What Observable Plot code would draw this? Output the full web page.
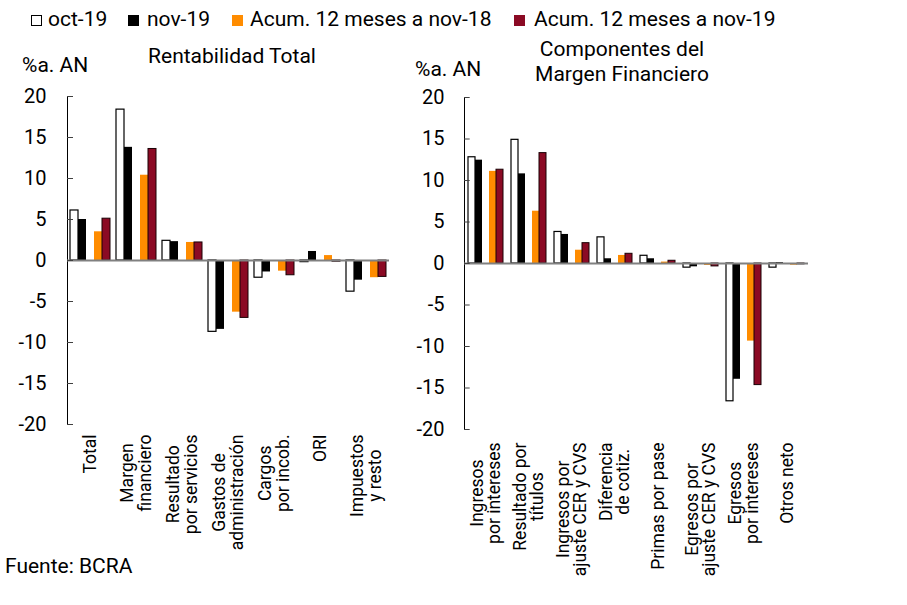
<!DOCTYPE html>
<html>
<head>
<meta charset="utf-8">
<script src="https://cdn.jsdelivr.net/npm/d3@7"></script>
<script src="https://cdn.jsdelivr.net/npm/@observablehq/plot@0.6"></script>
<style>
  html, body { margin: 0; padding: 0; background: #fff; }
  #root { position: relative; width: 907px; height: 605px; overflow: hidden; font-family: Roboto, "Noto Sans", sans-serif; color: #000; }
  .t { position: absolute; white-space: nowrap; line-height: 1; }
  .sw { position: absolute; width: 11px; height: 11px; box-sizing: border-box; }
  svg { overflow: visible; }
</style>
</head>
<body>
<div id="root"></div>
<script>
// ---------- DATA ----------
const seriesKeys = ["oct-19", "nov-19", "Acum. 12 meses a nov-18", "Acum. 12 meses a nov-19"];
const seriesColors = ["#ffffff", "#000000", "#ff8c00", "#8b0a24"];

const catsLeft = ["Total", "Margen\nfinanciero", "Resultado\npor servicios", "Gastos de\nadministración", "Cargos\npor incob.", "ORI", "Impuestos\ny resto"];
const oct19Left  = [6.1, 18.4, 2.4, -8.7, -2.1, -0.2, -3.8];
const nov19Left  = [5.0, 13.8, 2.3, -8.4, -1.4,  1.1, -2.4];
const acum18Left = [3.5, 10.4, 2.2, -6.3, -1.3,  0.6, -2.1];
const acum19Left = [5.1, 13.6, 2.2, -7.0, -1.8, -0.15, -2.0];

const catsRight = ["Ingresos\npor intereses", "Resultado por\ntítulos", "Ingresos por\najuste CER y CVS", "Diferencia\nde cotiz.", "Primas por pase", "Egresos por\najuste CER y CVS", "Egresos\npor intereses", "Otros neto"];
const oct19Right  = [12.8, 14.9, 3.8, 3.15, 0.93, -0.5, -16.6, -0.5];
const nov19Right  = [12.45, 10.8, 3.5, 0.57, 0.57, -0.4, -13.95, 0.1];
const acum18Right = [11.1, 6.3, 1.6, 0.97, 0.17, -0.23, -9.35, -0.2];
const acum19Right = [11.3, 13.3, 2.45, 1.17, 0.33, -0.35, -14.65, -0.1];

const yTicks = [-20, -15, -10, -5, 0, 5, 10, 15, 20];

const titleLeft = "Rentabilidad Total";
const titleRight = ["Componentes del", "Margen Financiero"];
const unitLabel = "%a. AN";
const source = "Fuente: BCRA";

// ---------- BUILD ----------
const root = document.getElementById("root");
const slots = [seriesKeys[0], seriesKeys[1], "_gap", seriesKeys[2], seriesKeys[3]];
const ctx = document.createElement("canvas").getContext("2d");

function panel({cats, values, left, width, marginLeft, marginRight, marginTop, marginBottom, tickPadding, labelGap}) {
  const rows = [];
  cats.forEach((c, i) => seriesKeys.forEach((s, j) => rows.push({cat: c, series: s, value: values[j][i]})));
  const facetW = (width - marginLeft - marginRight) / cats.length;
  ctx.font = "17.5px Roboto";
  const labelMarks = cats.map(c => {
    const w = d3.max(c.split("\n"), l => ctx.measureText(l).width);
    return Plot.text([c], {
      fx: d => d, frameAnchor: "bottom", text: d => d,
      rotate: -90, textAnchor: "middle", lineAnchor: "middle",
      lineHeight: 1.0, fontSize: 17.5, fill: "#000",
      dy: labelGap + w / 2
    });
  });
  const barStyles = [
    {fill: "#ffffff", stroke: "#000", strokeWidth: 1.2},
    {fill: "#000000"},
    {fill: "#ff8c00"},
    {fill: "#8b0a24", stroke: "#1a0005", strokeWidth: 1}
  ];
  const bars = seriesKeys.map((s, j) =>
    Plot.barY(rows.filter(r => r.series === s), {fx: "cat", x: "series", y: "value", ...barStyles[j]})
  );
  const svg = Plot.plot({
    width, height: 605,
    marginLeft, marginRight, marginTop, marginBottom,
    style: {background: "transparent", fontFamily: "Roboto", fontSize: "20px", color: "#000", overflow: "visible"},
    fx: {domain: cats, padding: 0, axis: null, label: null},
    x: {domain: slots, paddingInner: 0, paddingOuter: 0.375, axis: null},
    y: {domain: [-20, 20], ticks: yTicks, tickFormat: d => String(d), tickSize: 0, tickPadding, line: true, label: null},
    marks: [
      ...bars,
      Plot.ruleY([0], {stroke: "#808080", strokeWidth: 2}),
      Plot.tickY(yTicks, {y: d => d, fx: () => cats[0], insetRight: facetW - 6, stroke: "#404040"}),
      ...labelMarks
    ]
  });
  svg.style.position = "absolute";
  svg.style.left = left + "px";
  svg.style.top = "0px";
  root.appendChild(svg);
}

panel({
  cats: catsLeft, values: [oct19Left, nov19Left, acum18Left, acum19Left],
  left: 0, width: 420, marginLeft: 67, marginRight: 31, marginTop: 96, marginBottom: 181,
  tickPadding: 21, labelGap: 10
});
panel({
  cats: catsRight, values: [oct19Right, nov19Right, acum18Right, acum19Right],
  left: 420, width: 487, marginLeft: 43, marginRight: 97.4, marginTop: 97, marginBottom: 176,
  tickPadding: 20, labelGap: 13
});

// ---------- TEXT ----------
function addText(str, {left, baseline, size, center}) {
  const d = document.createElement("div");
  d.className = "t";
  d.textContent = str;
  d.style.fontSize = size + "px";
  d.style.top = (baseline - 0.843 * size) + "px";
  if (center !== undefined) {
    d.style.left = center + "px";
    d.style.transform = "translateX(-50%)";
  } else d.style.left = left + "px";
  root.appendChild(d);
}

// legend
const legendSw = [31, 128, 232, 514];
const legendTx = [48, 147, 250, 534];
seriesKeys.forEach((s, i) => {
  const sw = document.createElement("div");
  sw.className = "sw";
  sw.style.left = legendSw[i] + "px";
  sw.style.top = "15px";
  sw.style.background = seriesColors[i];
  sw.style.border = i === 0 ? "1px solid #000" : "none";
  root.appendChild(sw);
  addText(s, {left: legendTx[i], baseline: 27, size: 21});
});

addText(titleLeft, {center: 232, baseline: 63.5, size: 21});
addText(titleRight[0], {center: 622, baseline: 57, size: 21});
addText(titleRight[1], {center: 622, baseline: 82, size: 21});
addText(unitLabel, {left: 22, baseline: 73, size: 21});
addText(unitLabel, {left: 415, baseline: 77, size: 21});
addText(source, {left: 5, baseline: 574, size: 21});
</script>
</body>
</html>
